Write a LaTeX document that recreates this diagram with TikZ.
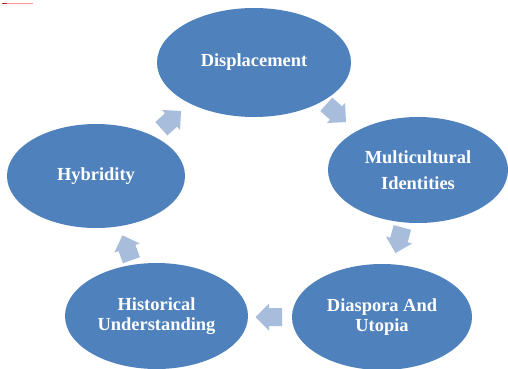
\documentclass[tikz,border=0pt]{standalone}
\usepackage{fontspec}
\setmainfont{Liberation Serif}
\usetikzlibrary{shapes.geometric}
\definecolor{ellblue}{RGB}{79,129,189}
\definecolor{arrowc}{RGB}{168,188,220}
\definecolor{markred}{RGB}{255,150,150}
\definecolor{markdark}{RGB}{190,40,40}
\tikzset{
  bubble/.style={ellipse, fill=ellblue, draw=none, inner sep=0pt, text=white,
    align=center, font=\bfseries\fontsize{18.5}{20}\selectfont},
  cyclearrow/.pic={\fill[arrowc] (-13,-9) -- (0,-9) -- (0,-13.5) -- (13.5,0) -- (0,13.5) -- (0,9) -- (-13,9) -- cycle;}
}
\begin{document}
\begin{tikzpicture}[x=1bp,y=1bp]
\useasboundingbox (0,0) rectangle (508,368);
\fill[white] (0,0) rectangle (508,368);
% small red mark top-left
\fill[markred] (2,363.5) rectangle (33,364.8);
\fill[markdark] (2,363.5) rectangle (7,364.8);
% ellipses
\node[bubble, minimum width=194bp, minimum height=109bp] (disp) at (254,305.5) {Displacement};
\node[bubble, minimum width=180bp, minimum height=106bp,
  font=\bfseries\fontsize{18.5}{26.5}\selectfont] (multi) at (418,198) {Multicultural\\Identities};
\node[bubble, minimum width=180bp, minimum height=106bp] (diasp) at (382,51) {Diaspora And\\Utopia};
\node[bubble, minimum width=183bp, minimum height=106bp] (hist) at (156.5,52) {Historical\\Understanding};
\node[bubble, minimum width=178bp, minimum height=104bp] (hyb) at (96,192) {Hybridity};
% cycle arrows
\pic[rotate=42] at (171,248) {cyclearrow};
\pic[rotate=-42] at (336,255) {cyclearrow};
\pic[rotate=-105] at (399,128) {cyclearrow};
\pic[rotate=180] at (269,51) {cyclearrow};
\pic[rotate=110] at (127,120) {cyclearrow};
\end{tikzpicture}
\end{document}
